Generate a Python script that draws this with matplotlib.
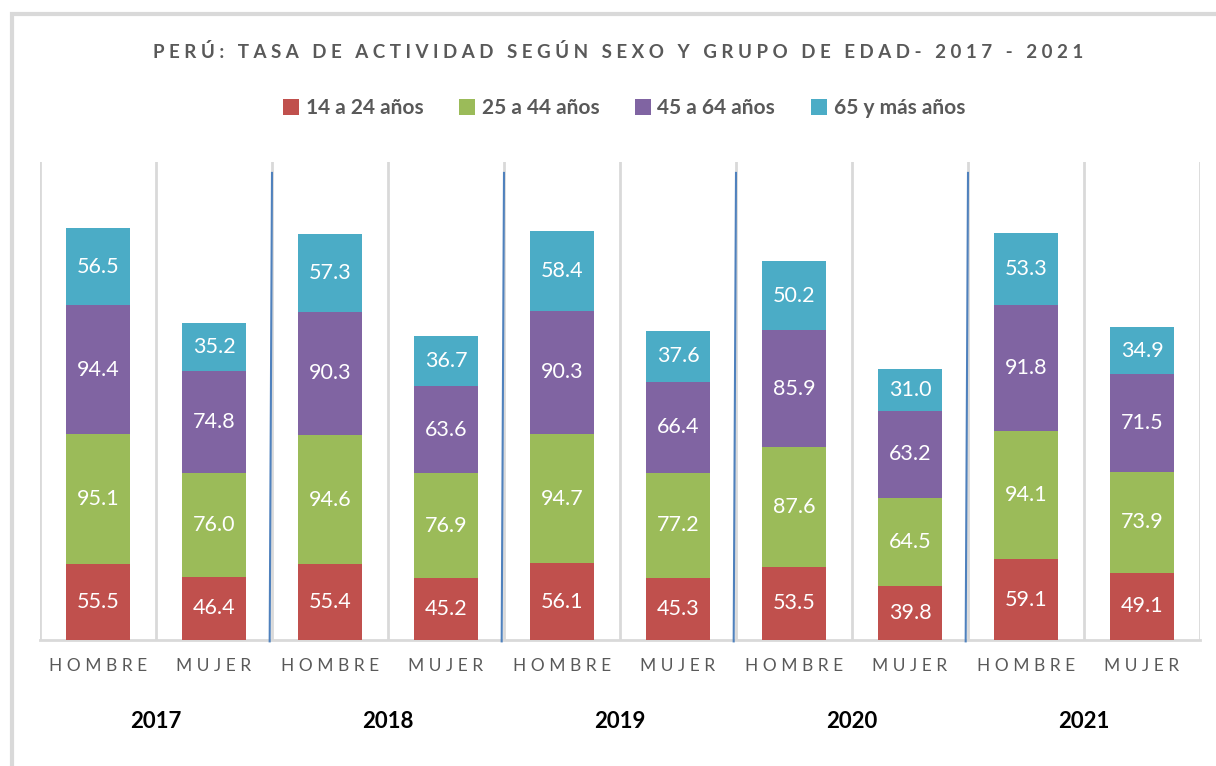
import numpy as np
import matplotlib.pyplot as plt
from matplotlib.patches import Rectangle

plt.rcParams['font.family'] = ['Lato', 'DejaVu Sans']

years = ["2017", "2018", "2019", "2020", "2021"]
sexes = ["HOMBRE", "MUJER"]
groups = ["14 a 24 años", "25 a 44 años", "45 a 64 años", "65 y más años"]

g14_24 = [55.5, 46.4, 55.4, 45.2, 56.1, 45.3, 53.5, 39.8, 59.1, 49.1]
g25_44 = [95.1, 76.0, 94.6, 76.9, 94.7, 77.2, 87.6, 64.5, 94.1, 73.9]
g45_64 = [94.4, 74.8, 90.3, 63.6, 90.3, 66.4, 85.9, 63.2, 91.8, 71.5]
g65_mas = [56.5, 35.2, 57.3, 36.7, 58.4, 37.6, 50.2, 31.0, 53.3, 34.9]

colors = ["#C0504D", "#9BBB59", "#8064A2", "#4BACC6"]
series = [g14_24, g25_44, g45_64, g65_mas]


def spaced(s, gap=" "):
    return gap.join(s)


fig = plt.figure(figsize=(12.16, 7.66), dpi=100)
fig.patches.append(Rectangle((12 / 1216, -0.05), 1.2, (766 - 14) / 766 + 0.05, transform=fig.transFigure,
                             fill=False, edgecolor="#D9D9D9", linewidth=3))

ax = fig.add_axes([40 / 1216, 126 / 766, 1160 / 1216, 478 / 766])
x = np.arange(len(g14_24))
bottom = np.zeros(len(x))
bars = []
for vals, c, name in zip(series, colors, groups):
    b = ax.bar(x, vals, 0.55, bottom=bottom, color=c, label=name, zorder=3)
    for xi, v, bt in zip(x, vals, bottom):
        ax.text(xi, bt + v / 2, f"{v:.1f}", ha="center", va="center",
                color="white", fontsize=15.5, zorder=4)
    bottom += np.array(vals)
    bars.append(b)

ax.set_xlim(-0.5, len(x) - 0.5)
ax.set_ylim(0, 350)
for s in ["top", "left", "right"]:
    ax.spines[s].set_visible(False)
ax.spines["bottom"].set_color("#D9D9D9")
ax.spines["bottom"].set_linewidth(2)
for b in np.arange(-0.5, len(x), 1.0):
    ax.axvline(b, color="#D9D9D9", linewidth=2, zorder=1)
ax.set_yticks([])
ax.set_xticks(x)
ax.set_xticklabels([spaced(sexes[i % 2]) for i in x], color="#595959", fontsize=12.5)
ax.tick_params(axis="x", length=0, pad=13)

# year separators (blue, slightly tilted as hand drawn)
for k in range(1, len(years)):
    xs = 2 * k - 0.5
    ax.plot([xs - 0.02, xs], [-1, 342], color="#4F81BD", linewidth=1.5,
            clip_on=False, zorder=5)

for k, yr in enumerate(years):
    ax.text(2 * k + 0.5, -0.17, yr, transform=ax.get_xaxis_transform(),
            ha="center", va="center", fontsize=16, fontweight="bold", color="black")

fig.text(0.508, 0.932, spaced("PERÚ: TASA DE ACTIVIDAD SEGÚN SEXO Y GRUPO DE EDAD- 2017 - 2021"),
         ha="center", va="center", fontsize=13.5, fontweight="bold", color="#595959")

leg = fig.legend(handles=bars, labels=groups, loc="center", bbox_to_anchor=(0.513, 0.859),
                 ncol=4, frameon=False, fontsize=15, handlelength=0.8, handleheight=0.8,
                 handletextpad=0.3, columnspacing=1.7)
for t in leg.get_texts():
    t.set_color("#595959")
    t.set_fontweight("bold")

fig.savefig("out.png", dpi=100)
